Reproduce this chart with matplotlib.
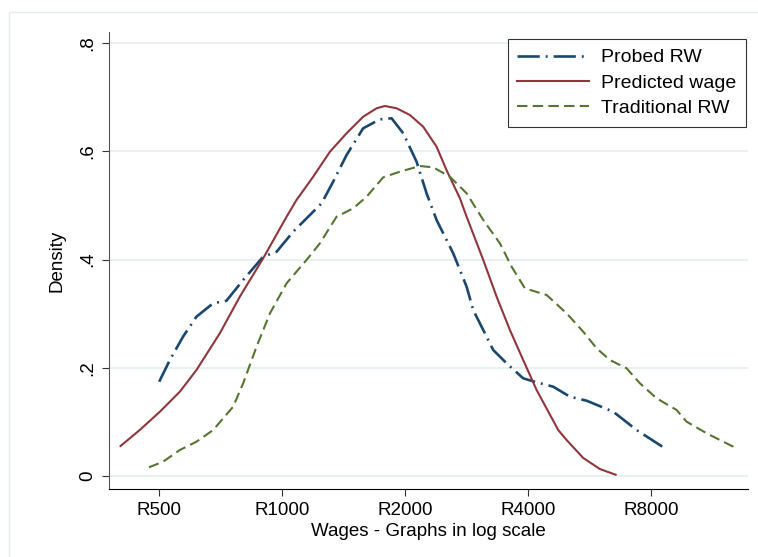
import matplotlib.pyplot as plt
from matplotlib.patches import Rectangle

plt.rcParams['font.family'] = ['Liberation Sans', 'DejaVu Sans']
plt.rcParams['lines.scale_dashes'] = False

# wages (R) and densities
pred_wage = [403, 449, 503, 563, 618, 705, 789, 900, 1027, 1086, 1193,
             1311, 1440, 1581, 1705, 1787, 1909, 2057, 2217, 2391, 2530, 2727,
             2832, 3110, 3354, 3614, 3895, 4201, 4745, 4975, 5463, 6002, 6557]
pred_dens = [0.0555, 0.0850, 0.1189, 0.1560, 0.1959, 0.2638, 0.3314,
             0.4024, 0.4793, 0.5102, 0.5532, 0.5994, 0.6335, 0.6641, 0.6797,
             0.6839, 0.6797, 0.6673, 0.6457, 0.6087, 0.5650, 0.5133, 0.4793,
             0.3993, 0.3314, 0.2699, 0.2144, 0.1590, 0.0850, 0.0665, 0.0333,
             0.0129, 0.0024]

probed_wage = [501, 532, 573, 618, 679, 732, 804, 900, 971, 1066, 1171, 1251,
               1335, 1440, 1581, 1737, 1856, 1981, 2136, 2260, 2391, 2626, 2832,
               2939, 3110, 3290, 3548, 3895, 4201, 4613, 5068, 5568, 6469, 7380,
               8657]
probed_dens = [0.1743, 0.2144, 0.2575, 0.2945, 0.3192, 0.3240, 0.3623, 0.4054,
               0.4146, 0.4516, 0.4824, 0.5041, 0.5440, 0.5933, 0.6427, 0.6593,
               0.6612, 0.6335, 0.5810, 0.5225, 0.4732, 0.4116, 0.3499, 0.3068,
               0.2699, 0.2329, 0.2083, 0.1806, 0.1732, 0.1651, 0.1466, 0.1392,
               0.1189, 0.0850, 0.0512]

trad_wage = [473, 512, 563, 618, 679, 760, 804, 867, 935, 1027, 1149, 1239,
             1361, 1495, 1612, 1770, 1944, 2176, 2346, 2577, 2832, 3110, 3416,
             3649, 3933, 4444, 4975, 5463, 5891, 6350, 6976, 7520, 8261, 9246,
             9782, 10950, 12720, 12966]
trad_dens = [0.0161, 0.0264, 0.0481, 0.0634, 0.0850, 0.1281, 0.1713, 0.2390,
             0.3007, 0.3562, 0.3993, 0.4301, 0.4793, 0.4948, 0.5163, 0.5521,
             0.5625, 0.5730, 0.5706, 0.5532, 0.5225, 0.4732, 0.4301, 0.3869,
             0.3469, 0.3346, 0.3007, 0.2667, 0.2360, 0.2144, 0.1991, 0.1713,
             0.1436, 0.1220, 0.1004, 0.0789, 0.0542, 0.0481]

xticks = [500, 1000, 2000, 4000, 8000]
xlabels = ['R500', 'R1000', 'R2000', 'R4000', 'R8000']
yticks = [0, 0.2, 0.4, 0.6, 0.8]
ylabels = ['0', '.2', '.4', '.6', '.8']

fig = plt.figure(figsize=(7.58, 5.57), dpi=100)
ax = fig.add_axes([109 / 758, 68 / 557, 639 / 758, 457 / 557])

# light outer frame like the stata graph region
fig.patches.append(Rectangle((9 / 758, -0.1), 1.2, 0.1 + 545 / 557,
                             transform=fig.transFigure, fill=False,
                             edgecolor='#e3ebee', lw=1))

for y in yticks:
    ax.axhline(y, color='#e8f0f2', lw=1.4, zorder=0)

ax.plot(probed_wage, probed_dens, color='#1a476f', lw=1.9,
        linestyle=(0, (16, 4.3, 1.4, 4.3)), label='Probed RW')
ax.plot(pred_wage, pred_dens, color='#90353b', lw=1.5, label='Predicted wage')
ax.plot(trad_wage, trad_dens, color='#55752f', lw=1.5,
        linestyle=(0, (7.5, 3.8)), label='Traditional RW')

ax.set_xscale('log', base=2)
ax.set_xlim(377.6, 13822)
ax.set_ylim(-0.024, 0.8207)
ax.set_xticks(xticks)
ax.set_xticklabels(xlabels)
ax.minorticks_off()
ax.set_yticks(yticks)
ax.set_yticklabels(ylabels, rotation=90, va='center')

for s in ['top', 'right']:
    ax.spines[s].set_visible(False)
ax.spines['left'].set_color('#555555')
ax.spines['bottom'].set_color('black')
ax.tick_params(axis='both', labelsize=13.5, length=5, width=0.8, color='#333333')
ax.tick_params(axis='x', pad=4.5)
ax.tick_params(axis='y', pad=4)

ax.set_xlabel('Wages - Graphs in log scale', fontsize=13.5, labelpad=3)
ax.set_ylabel('Density', fontsize=13.5, labelpad=10)

leg = ax.legend(loc='upper right', bbox_to_anchor=(746 / 758, 1 - 39 / 557),
                bbox_transform=fig.transFigure, fontsize=14, frameon=True,
                fancybox=False, edgecolor='black', handlelength=3.7,
                handletextpad=0.6, labelspacing=0.4, borderpad=0.5,
                borderaxespad=0)
leg.get_frame().set_linewidth(0.8)

fig.savefig('out.png', dpi=100)
